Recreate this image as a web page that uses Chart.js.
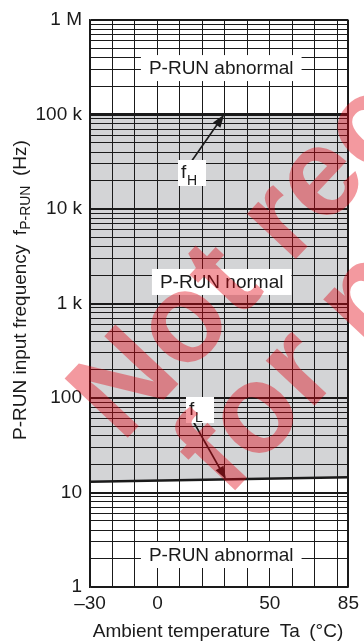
<!DOCTYPE html>
<html><head><meta charset="utf-8">
<script src="https://cdn.jsdelivr.net/npm/chart.js@4/dist/chart.umd.min.js"></script>
<style>html,body{margin:0;padding:0;background:#fff;overflow:hidden}#wrap{width:364px;height:643px}</style>
</head><body><div id="wrap"><canvas id="c" width="364" height="643"></canvas></div>
<script>
// ---- data ----
const temperatures = [-30, 85];
const fH = [100000, 100000];
const fL = [13, 14.5];
const xTickValues = [-30, -20, -10, 0, 10, 20, 30, 40, 50, 60, 70, 80, 85];
const xLabeledTicks = [-30, 0, 50, 85];
const xTickLabels = ['\u201330', '0', '50', '85'];
const yDecades = [1, 10, 100, 1000, 10000, 100000, 1000000];
const yDecadeLabels = ['1', '10', '100', '1 k', '10 k', '100 k', '1 M'];
const regionTexts = ['P-RUN abnormal', 'P-RUN normal', 'P-RUN abnormal'];
const regionAt = [[28.4, 310000], [28.6, 1690], [28.4, 2.18]];

const FONT = '"Liberation Sans", Arial, sans-serif';
const INK = '#1a1a1a';

function isDecade(v){ return yDecades.some(d => Math.abs(v - d) < 1e-9 * d); }

const overlay = {
  id: 'overlay',
  afterDraw(chart){
    const c = chart.ctx, xs = chart.scales.x, ys = chart.scales.y;
    c.save();
    // region labels
    c.font = '19px ' + FONT;
    c.textBaseline = 'middle';
    c.textAlign = 'center';
    regionTexts.forEach((t, i) => {
      const px = xs.getPixelForValue(regionAt[i][0]);
      const py = ys.getPixelForValue(regionAt[i][1]);
      const w = c.measureText(t).width + 16;
      c.fillStyle = '#fff';
      c.fillRect(px - w / 2, py - 13, w, 26);
      c.fillStyle = INK;
      c.fillText(t, px, py + 1);
    });
    // f labels with arrows
    function arrow(x1, y1, x2, y2){
      const a = Math.atan2(y2 - y1, x2 - x1), L = 13, W = 4.5;
      c.strokeStyle = INK; c.lineWidth = 1.6;
      c.beginPath(); c.moveTo(x1, y1);
      c.lineTo(x2 - (L - 2) * Math.cos(a), y2 - (L - 2) * Math.sin(a)); c.stroke();
      c.fillStyle = INK; c.beginPath();
      c.moveTo(x2, y2);
      c.lineTo(x2 - L * Math.cos(a) + W * Math.sin(a), y2 - L * Math.sin(a) - W * Math.cos(a));
      c.lineTo(x2 - L * Math.cos(a) - W * Math.sin(a), y2 - L * Math.sin(a) + W * Math.cos(a));
      c.closePath(); c.fill();
    }
    function fLabel(bx, by, sub){
      c.fillStyle = '#fff'; c.fillRect(bx, by, 28, 26);
      c.fillStyle = INK; c.textAlign = 'left'; c.textBaseline = 'alphabetic';
      c.font = '19px ' + FONT; c.fillText('f', bx + 3, by + 18);
      c.font = '14px ' + FONT; c.fillText(sub, bx + 9, by + 25);
    }
    const hx = xs.getPixelForValue(29.7), hy = ys.getPixelForValue(fH[0]);
    arrow(191, 162, hx, hy);
    fLabel(178, 160, 'H');
    const lT = 30.5;
    const lx = xs.getPixelForValue(lT);
    const ly = ys.getPixelForValue(fL[0] + (fL[1] - fL[0]) * (lT - temperatures[0]) / (temperatures[1] - temperatures[0]));
    arrow(193, 421, lx, ly);
    fLabel(186, 397, 'L');
    // axis titles
    c.fillStyle = INK; c.textBaseline = 'alphabetic';
    c.font = '19px ' + FONT; c.textAlign = 'center';
    c.fillText('Ambient temperature\u2002Ta\u2002(\u00b0C)', 218, 637);
    c.save();
    c.translate(26, 440); c.rotate(-Math.PI / 2);
    c.textAlign = 'left';
    let x = 0;
    const p1 = 'P-RUN input frequency\u2002f';
    c.font = '19px ' + FONT; c.fillText(p1, x, 0); x += c.measureText(p1).width;
    c.font = '14px ' + FONT; c.fillText('P-RUN', x, 4); x += c.measureText('P-RUN').width;
    c.font = '19px ' + FONT; c.fillText('\u2002(Hz)', x, 0);
    c.restore();
    // watermark
    c.save();
    c.globalAlpha = 0.4; c.fillStyle = '#e0000e';
    c.font = 'bold 126px ' + FONT; c.textAlign = 'left'; c.textBaseline = 'alphabetic';
    const ang = -46.8 * Math.PI / 180;
    c.save(); c.translate(122, 444); c.rotate(ang); c.fillText('Not recommended', 0, 0); c.restore();
    c.save(); c.translate(227, 499); c.rotate(ang); c.fillText('for new design', 0, 0); c.restore();
    c.restore();
    c.restore();
  }
};

new Chart(document.getElementById('c'), {
  type: 'line',
  data: {
    datasets: [
      { label: 'fH', data: temperatures.map((t, i) => ({ x: t, y: fH[i] })),
        borderColor: INK, borderWidth: 3, pointRadius: 0, fill: false },
      { label: 'fL', data: temperatures.map((t, i) => ({ x: t, y: fL[i] })),
        borderColor: INK, borderWidth: 2.5, pointRadius: 0, fill: '-1', backgroundColor: '#d3d4d6' }
    ]
  },
  options: {
    responsive: false, animation: false, devicePixelRatio: 1,
    layout: { padding: { left: 0, right: 14, top: 20, bottom: 0 } },
    plugins: { legend: { display: false }, tooltip: { enabled: false } },
    scales: {
      x: {
        type: 'linear', min: -30, max: 85,
        afterBuildTicks: s => { s.ticks = xTickValues.map(v => ({ value: v })); },
        afterFit: s => { s.height = 56; },
        ticks: { autoSkip: false, maxRotation: 0, padding: 5, color: INK, font: { family: FONT, size: 19 },
          callback: v => { const i = xLabeledTicks.indexOf(v); return i >= 0 ? xTickLabels[i] : ''; } },
        grid: { z: 1, color: INK, lineWidth: ctx => (ctx.tick && ctx.tick.value === 85) ? 2 : 1, drawTicks: false },
        border: { z: 2, color: INK, width: 1.5 }
      },
      y: {
        type: 'logarithmic', min: 1, max: 1000000,
        afterBuildTicks: s => {
          const t = [];
          for (let e = 0; e < 6; e++) for (let m = 1; m < 10; m++) t.push({ value: m * Math.pow(10, e) });
          t.push({ value: 1000000 });
          s.ticks = t;
        },
        afterFit: s => { s.width = 90; },
        ticks: { autoSkip: false, padding: 8, color: INK, font: { family: FONT, size: 19 },
          callback: v => { const i = yDecades.findIndex(d => Math.abs(v - d) < 1e-9 * d); return i >= 0 ? yDecadeLabels[i] : ''; } },
        grid: { z: 1, color: INK, lineWidth: ctx => (ctx.tick && isDecade(ctx.tick.value)) ? 2 : 1, drawTicks: false },
        border: { z: 2, color: INK, width: 1.5 }
      }
    }
  },
  plugins: [overlay]
});
</script>
</body></html>
